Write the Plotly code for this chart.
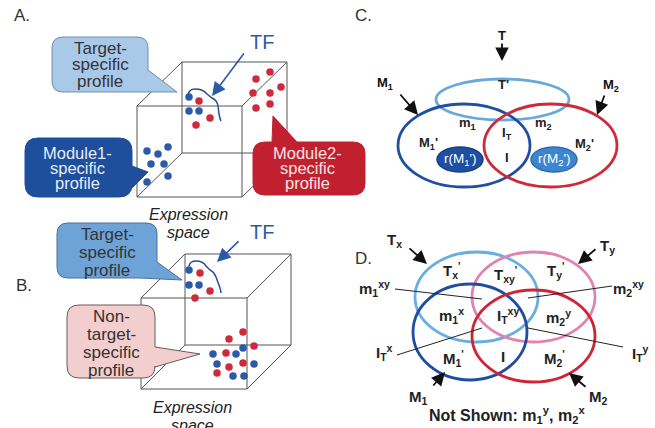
import plotly.graph_objects as go

W, H = 655, 428
FONT = "Liberation Sans, Arial, sans-serif"

BLUE = "#2b5ba8"
RED = "#cf2a3b"
DARK = "#333333"
LINE = "#555555"

# ---------------- data: dot clusters (panel A / B) ----------------
a_target_blue_x = [189, 189, 199]
a_target_blue_y = [97, 111, 111]
a_target_red_x = [199, 210, 196]
a_target_red_y = [101, 118, 125]
a_mod2_red_x = [270, 256, 281, 253, 270, 256, 270]
a_mod2_red_y = [72, 79, 87, 93, 93, 108, 104]
a_mod1_blue_x = [168, 147, 158, 151, 164, 168, 147]
a_mod1_blue_y = [147, 151, 154, 164, 164, 176, 182]
b_target_blue_x = [189, 189, 199]
b_target_blue_y = [270, 285, 285]
b_target_red_x = [200, 210, 195]
b_target_red_y = [273, 291, 298]
b_nontarget_red_x = [229, 243, 254, 226, 229, 243, 217]
b_nontarget_red_y = [339, 332, 346, 353, 367, 363, 373]
b_nontarget_blue_x = [213, 236, 243, 217, 254, 233, 244]
b_nontarget_blue_y = [354, 354, 348, 364, 364, 376, 376]

# ---------------- data: Venn sets (panel C / D) ----------------
c_sets = ["T", "M1", "M2"]
c_centers = [(502.5, 99.5), (464, 145.5), (550.5, 145.5)]
c_radii = [(66.5, 20.5), (66, 41.5), (66.5, 41.5)]
c_colors = ["#6aa8dc", "#1f4fa0", "#d02a3a"]

d_sets = ["Tx", "Ty", "M1", "M2"]
d_centers = [(476.5, 297), (533.5, 297), (470, 332), (533.5, 336)]
d_radii = [(61.5, 45), (61.5, 45), (57, 48), (61.5, 46)]
d_colors = ["#6aaee0", "#e184b0", "#1f4e9e", "#cf2436"]

c_labels = ["T'", "m<sub>1</sub>", "m<sub>2</sub>", "I<sub>T</sub>", "M<sub>1</sub>'",
            "M<sub>2</sub>'", "I"]
c_label_pos = [(503, 84), (467, 123), (543, 123), (507, 133), (428, 143), (584, 144), (507, 157)]

d_labels = ["T<sub>x</sub><sup>'</sup>", "T<sub>xy</sub><sup>'</sup>", "T<sub>y</sub><sup>'</sup>",
            "m<sub>1</sub><sup>x</sup>", "I<sub>T</sub><sup>xy</sup>", "m<sub>2</sub><sup>y</sup>",
            "M<sub>1</sub><sup>'</sup>", "I", "M<sub>2</sub><sup>'</sup>"]
d_label_pos = [(452, 270), (505, 274), (556, 270), (451, 315), (508, 315), (558, 317),
               (453, 358), (503, 356), (554, 358)]

shapes = []
annotations = []


def line(x0, y0, x1, y1, color=LINE, width=1, layer="below"):
    shapes.append(dict(type="line", x0=x0, y0=y0, x1=x1, y1=y1, xref="x", yref="y",
                       line=dict(color=color, width=width), layer=layer))


def cube(fx0, fy0, w, h, dx, dy):
    fx1, fy1 = fx0 + w, fy0 + h
    bx0, by0, bx1, by1 = fx0 + dx, fy0 + dy, fx1 + dx, fy1 + dy
    for (a, b, c, d) in [(fx0, fy0, fx1, fy0), (fx1, fy0, fx1, fy1), (fx1, fy1, fx0, fy1),
                         (fx0, fy1, fx0, fy0), (bx0, by0, bx1, by0), (bx1, by0, bx1, by1),
                         (bx1, by1, bx0, by1), (bx0, by1, bx0, by0), (fx0, fy0, bx0, by0),
                         (fx1, fy0, bx1, by0), (fx1, fy1, bx1, by1), (fx0, fy1, bx0, by1)]:
        line(a, b, c, d)


def ann(x, y, text, size=12, color=DARK, bold=False, italic=False, xanchor="center"):
    if bold:
        text = "<b>" + text + "</b>"
    if italic:
        text = "<i>" + text + "</i>"
    annotations.append(dict(x=x, y=y, xref="x", yref="y", text=text, showarrow=False,
                            xanchor=xanchor, yanchor="middle",
                            font=dict(family=FONT, size=size, color=color)))


def arrow(x0, y0, x1, y1, color="#111111", width=1.8, size=1.5):
    annotations.append(dict(x=x1, y=y1, ax=x0, ay=y0, xref="x", yref="y", axref="x", ayref="y",
                            text="", showarrow=True, arrowhead=2, arrowsize=size,
                            arrowwidth=width, arrowcolor=color, standoff=0, startstandoff=0))


def bubble(x0, y0, x1, y1, r, tail_path, fill, outline):
    edge, seg = tail_path
    p = f"M{x0 + r},{y0} "
    if edge == "top":
        p += seg
    p += f"L{x1 - r},{y0} Q{x1},{y0} {x1},{y0 + r} "
    if edge == "right":
        p += seg + f"L{x1},{y1 - r} Q{x1},{y1} {x1 - r},{y1} "
    elif edge == "corner":
        p += seg
    else:
        p += f"L{x1},{y1 - r} Q{x1},{y1} {x1 - r},{y1} "
    p += f"L{x0 + r},{y1} Q{x0},{y1} {x0},{y1 - r} L{x0},{y0 + r} Q{x0},{y0} {x0 + r},{y0} Z"
    shapes.append(dict(type="path", path=p, xref="x", yref="y", fillcolor=fill,
                       line=dict(color=outline, width=1), layer="above"))


def text_lines(x, y0, step, lines_, size, color):
    for i, t in enumerate(lines_):
        ann(x, y0 + i * step, t, size=size, color=color)


# ---------------- Panel A ----------------
cube(137, 106, 105, 91, 45, -44)
shapes.append(dict(type="path", xref="x", yref="y", layer="above",
                   path="M188,95 Q189,89 195,89 Q203,89 207,94 L212,98 Q217,100 218,106 "
                        "L219,114 Q220,119 221,121",
                   line=dict(color="#2a4f90", width=1.5)))
arrow(245, 52, 212, 96, color=BLUE, width=1.6, size=1.7)
ann(262, 42, "TF", size=20, color=BLUE)

bubble(52, 37, 148, 92, 11, ("corner", "L148,70 L177,92 L134,92 "), "#a9c9e9", "#6f8fb0")
text_lines(100, 48, 16.5, ["Target-", "specific", "profile"], 17, DARK)
bubble(25, 138, 132, 197, 13, ("right", "L132,166 L148,172 L132,188 "), "#1d4f9c", "#1d4f9c")
text_lines(77, 153, 15, ["Module1-", "specific", "profile"], 16.5, "#e6ecf6")
bubble(253, 142, 365, 195, 12, ("top", "L272,142 L273,116 L297,142 "), "#c1202f", "#c1202f")
text_lines(307, 153, 15, ["Module2-", "specific", "profile"], 16.5, "#f6e4e4")

ann(188, 214, "Expression", size=16, color="#222", italic=True)
ann(188, 232, "space", size=16, color="#222", italic=True)
ann(22, 15, "A.", size=17, color=DARK)

# ---------------- Panel B ----------------
cube(141, 298, 106, 91, 44, -44)
shapes.append(dict(type="path", xref="x", yref="y", layer="above",
                   path="M189,266 Q190,261 196,261 Q203,261 206,266 L210,270 Q214,272 216,277 "
                        "L219,285 Q221,290 221,293",
                   line=dict(color="#2a4f90", width=1.5)))
arrow(240, 240, 217, 262, color=BLUE, width=1.6, size=1.7)
ann(262, 232, "TF", size=20, color=BLUE)

bubble(57, 223, 157, 278, 11, ("corner", "L157,262 L182,280 L140,278 "), "#6ea3d8", "#4a6f9a")
text_lines(107, 234, 18, ["Target-", "specific", "profile"], 17, DARK)
bubble(67, 305, 155, 378, 12, ("right", "L155,347 L200,354 L155,367 "), "#f2cece", "#6a5a5a")
text_lines(111, 316, 18, ["Non-", "target-", "specific", "profile"], 17, DARK)

ann(192, 407, "Expression", size=16, color="#222", italic=True)
ann(192, 425, "space", size=16, color="#222", italic=True)
ann(24, 285, "B.", size=17, color=DARK)

traces = []
for xs, ys, col in [(a_target_blue_x, a_target_blue_y, BLUE), (a_target_red_x, a_target_red_y, RED),
                    (a_mod2_red_x, a_mod2_red_y, RED), (a_mod1_blue_x, a_mod1_blue_y, BLUE),
                    (b_target_blue_x, b_target_blue_y, BLUE), (b_target_red_x, b_target_red_y, RED),
                    (b_nontarget_red_x, b_nontarget_red_y, RED),
                    (b_nontarget_blue_x, b_nontarget_blue_y, BLUE)]:
    traces.append(go.Scatter(x=xs, y=ys, mode="markers", hoverinfo="skip",
                             marker=dict(size=7.5, color=col, line=dict(width=0))))

# ---------------- Panel C ----------------
for (cx, cy), (rx, ry), col in zip(c_centers, c_radii, c_colors):
    shapes.append(dict(type="circle", xref="x", yref="y", x0=cx - rx, x1=cx + rx,
                       y0=cy - ry, y1=cy + ry, line=dict(color=col, width=2.8), layer="above"))
shapes.append(dict(type="circle", xref="x", yref="y", x0=437, x1=483, y0=147, y1=172,
                   fillcolor="#1f4fa0", line=dict(color="#17407f", width=1.5), layer="above"))
shapes.append(dict(type="circle", xref="x", yref="y", x0=531, x1=577, y0=147, y1=172,
                   fillcolor="#3d86cf", line=dict(color="#2c6cb0", width=1.5), layer="above"))
for t, (x, y) in zip(c_labels, c_label_pos):
    ann(x, y, t, size=13, color="#222", bold=True)
ann(460, 159.5, "r(M<sub>1</sub>')", size=13.5, color="white")
ann(554, 159.5, "r(M<sub>2</sub>')", size=13.5, color="white")
ann(502, 35, "T", size=13, color="#111", bold=True)
arrow(502, 42, 502, 61)
ann(385, 83, "M<sub>1</sub>", size=13, color="#111", bold=True)
arrow(399, 93, 418, 115)
ann(611, 85, "M<sub>2</sub>", size=13, color="#111", bold=True)
arrow(605, 94, 597, 115)
ann(363, 15, "C.", size=17, color=DARK)

# ---------------- Panel D ----------------
for (cx, cy), (rx, ry), col in zip(d_centers, d_radii, d_colors):
    shapes.append(dict(type="circle", xref="x", yref="y", x0=cx - rx, x1=cx + rx,
                       y0=cy - ry, y1=cy + ry, line=dict(color=col, width=2.8), layer="above"))
for t, (x, y) in zip(d_labels, d_label_pos):
    ann(x, y, t, size=15, color="#222", bold=True)
line(395, 289, 482, 299, color="#222", width=1, layer="above")
line(612, 286, 528, 298, color="#222", width=1, layer="above")
line(397, 355, 482, 328, color="#222", width=1, layer="above")
line(623, 347, 528, 328, color="#222", width=1, layer="above")
ann(374, 288, "m<sub>1</sub><sup>xy</sup>", size=15, color="#222", bold=True)
ann(628, 288, "m<sub>2</sub><sup>xy</sup>", size=15, color="#222", bold=True)
ann(384, 352, "I<sub>T</sub><sup>x</sup>", size=15, color="#222", bold=True)
ann(640, 353, "I<sub>T</sub><sup>y</sup>", size=15, color="#222", bold=True)
ann(394, 240, "T<sub>x</sub>", size=15, color="#222", bold=True)
arrow(408, 247, 427, 264)
ann(607, 246, "T<sub>y</sub>", size=15, color="#222", bold=True)
arrow(597, 248, 578, 264)
ann(418, 397, "M<sub>1</sub>", size=15, color="#222", bold=True)
arrow(432, 387, 445, 372)
ann(598, 397, "M<sub>2</sub>", size=15, color="#222", bold=True)
arrow(587, 388, 569, 373)
ann(507, 415, "Not Shown: m<sub>1</sub><sup>y</sup>, m<sub>2</sub><sup>x</sup>", size=16,
    color="#222", bold=True)
ann(363, 258, "D.", size=17, color=DARK)

fig = go.Figure(traces)
fig.update_layout(
    width=W, height=H, margin=dict(l=0, r=0, t=0, b=0),
    paper_bgcolor="white", plot_bgcolor="white", showlegend=False,
    xaxis=dict(range=[0, W], visible=False, fixedrange=True),
    yaxis=dict(range=[H, 0], visible=False, fixedrange=True),
    shapes=shapes, annotations=annotations,
)
fig.write_html("out.html", config={"displayModeBar": False},
               post_script="document.body.style.margin='0';document.body.style.padding='0';"
                           "document.body.style.overflow='hidden';")
